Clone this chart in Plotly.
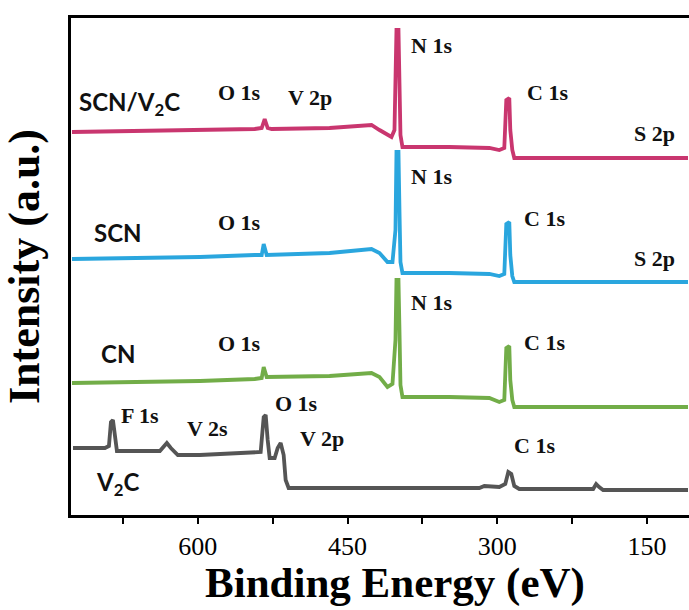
import plotly.graph_objects as go

# XPS survey spectra (stacked, arbitrary units)
scn_v2c_energy = [726, 648, 598, 543, 536, 533, 530, 526, 468, 436, 426, 418, 410, 406, 403, 402, 401,
                  399, 398, 397, 395, 348, 308, 298, 293, 291, 288, 287, 285, 283, 109]
scn_v2c_counts = [383, 384, 385, 386, 387, 396, 387, 386, 387, 389, 390, 385, 380, 378, 385, 435, 485,
                  485, 415, 380, 368, 368, 367, 365, 367, 415, 417, 385, 365, 357, 357]

scn_energy = [726, 598, 543, 536, 534, 531, 468, 436, 426, 418, 410, 405, 402, 401, 399, 398, 397,
              395, 348, 308, 298, 293, 291, 288, 287, 285, 283, 109]
scn_counts = [256, 258, 260, 260, 271, 260, 262, 265, 266, 262, 253, 253, 285, 363, 363, 305, 253,
              242, 242, 241, 239, 241, 291, 293, 260, 239, 233, 233]

cn_energy = [726, 598, 543, 536, 534, 531, 468, 436, 426, 418, 410, 405, 402, 401, 399, 398, 397,
             395, 348, 308, 298, 293, 291, 288, 287, 285, 283, 109]
cn_counts = [132, 134, 136, 137, 148, 138, 139, 141, 142, 138, 128, 131, 175, 235, 235, 185, 130,
             118, 118, 117, 113, 115, 167, 169, 135, 115, 108, 108]

v2c_energy = [725, 693, 689, 687, 685, 683, 681, 638, 634, 631, 627, 620, 598, 543, 537, 534, 532,
              530, 528, 523, 520, 517, 514, 512, 509, 318, 313, 298, 292, 289, 286, 283, 278, 204,
              201, 198, 194, 109]
v2c_counts = [67, 67, 69, 93, 95, 75, 64, 64, 69, 72, 67, 60, 60, 62, 63, 98, 100,
              75, 57, 57, 67, 72, 60, 35, 27, 27, 29, 28, 31, 43, 41, 29, 26, 26,
              31, 28, 25, 25]

series_names = ["SCN/V<sub>2</sub>C", "SCN", "CN", "V<sub>2</sub>C"]
series_colors = ["#C9366F", "#2AA6DE", "#72AD48", "#555555"]

# peak labels: (text, energy, intensity)
peak_labels = [
    ("O 1s", 558, 423), ("V 2p", 488, 418), ("N 1s", 366, 470), ("C 1s", 250, 423), ("S 2p", 143, 382),
    ("O 1s", 558, 293), ("N 1s", 366, 339), ("C 1s", 253, 297), ("S 2p", 143, 257),
    ("O 1s", 558, 172), ("N 1s", 366, 213), ("C 1s", 253, 173),
    ("F 1s", 658, 100), ("V 2s", 590, 87), ("O 1s", 501, 112), ("V 2p", 476, 77), ("C 1s", 263, 70),
]
# sample labels: (energy of left edge, intensity)
sample_label_pos = [(721, 412), (706, 283), (699, 162), (704, 32)]

x_ticks = [600, 450, 300, 150]
x_minor = [675, 525, 375, 225]

fig = go.Figure()
data = [(scn_v2c_energy, scn_v2c_counts), (scn_energy, scn_counts),
        (cn_energy, cn_counts), (v2c_energy, v2c_counts)]
for (e, c), name, col in zip(data, series_names, series_colors):
    fig.add_trace(go.Scatter(x=e, y=c, mode="lines", name=name,
                             line=dict(color=col, width=3.8), showlegend=False))

for text, e, c in peak_labels:
    fig.add_annotation(x=e, y=c, text="<b>" + text + "</b>", showarrow=False,
                       font=dict(family="Liberation Serif", size=22, color="#111111"),
                       xanchor="center", yanchor="middle")

for name, (e, c) in zip(series_names, sample_label_pos):
    fig.add_annotation(x=e, y=c, text="<b>" + name + "</b>", showarrow=False,
                       font=dict(family="Lato", size=24, color="#111111"),
                       xanchor="left", yanchor="middle")

# x-axis title, set slightly right of the plot centre
fig.add_annotation(x=0.525, y=-0.137, xref="paper", yref="paper",
                   text="<b>Binding Energy (eV)</b>", showarrow=False,
                   font=dict(family="Liberation Serif", size=43, color="black"),
                   xanchor="center", yanchor="middle")

fig.update_xaxes(
    range=[727, 108], tickvals=x_ticks, ticktext=[str(t) for t in x_ticks],
    ticks="outside", ticklen=6, tickwidth=2, tickcolor="black",
    minor=dict(tickvals=x_minor, ticks="outside", ticklen=6, tickwidth=2, tickcolor="black"),
    showline=True, linecolor="black", linewidth=2.5, mirror=True,
    showgrid=False, zeroline=False,
    tickfont=dict(family="Liberation Serif", size=26, color="black"),
)
fig.update_yaxes(
    range=[0, 497], showticklabels=False, ticks="",
    showline=True, linecolor="black", linewidth=2.5, mirror=False,
    showgrid=False, zeroline=False,
    title=dict(text="<b>Intensity (a.u.)</b>", standoff=20,
               font=dict(family="Liberation Serif", size=44, color="black")),
)
fig.update_layout(
    width=689, height=610,
    margin=dict(l=71, r=0, t=18, b=95),
    plot_bgcolor="white", paper_bgcolor="white",
    font=dict(family="Liberation Serif", color="black"),
)

fig.write_html("out.html")
